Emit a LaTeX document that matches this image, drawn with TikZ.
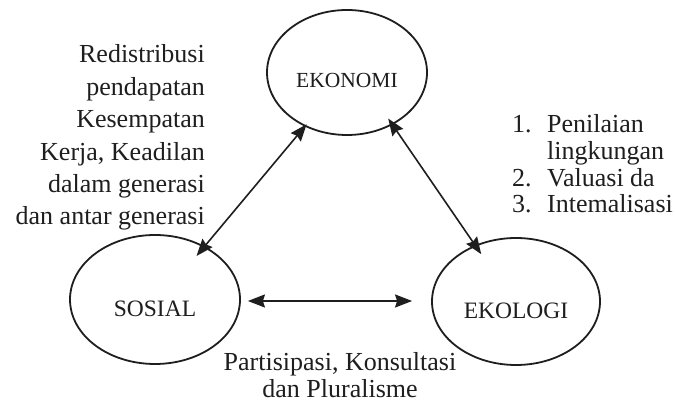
\documentclass[tikz,border=0pt]{standalone}
\usepackage{fontspec}
\setmainfont{Liberation Serif}
\usetikzlibrary{shapes.geometric,arrows.meta}
\definecolor{ink}{RGB}{30,30,30}
\begin{document}
\begin{tikzpicture}[x=1pt,y=1pt,
  circ/.style={draw=ink, line width=1.8pt, ellipse, inner sep=0pt},
  lbl/.style={font=\fontsize{26}{30}\selectfont, text=ink, inner sep=0pt},
  capl/.style={text=ink, inner sep=0pt, anchor=base},
  arr/.style={draw=ink, line width=1.6pt, {Stealth[length=17pt,width=13pt,inset=2pt]}-{Stealth[length=17pt,width=13pt,inset=2pt]}}]
\useasboundingbox[fill=white] (0,0) rectangle (675,406);
% ellipses
\node[circ, minimum width=160pt, minimum height=125pt] (eko) at (347,333.5) {};
\node[circ, minimum width=170pt, minimum height=129pt] (sos) at (155,106.5) {};
\node[circ, minimum width=168pt, minimum height=127pt] (ekol) at (516,104.5) {};
% ellipse labels
\node[capl, font=\fontsize{21.5}{24}\selectfont] (ekot) at (347,318) {EKONOMI};
\node[capl, font=\fontsize{23.5}{26}\selectfont] (sost) at (155,89) {SOSIAL};
\node[capl, font=\fontsize{23.5}{26}\selectfont] (ekolt) at (516,87) {EKOLOGI};
% arrows
\draw[arr, shorten <=-3pt, shorten >=-12.8pt] (eko.-128.4) -- (sos.47.6);
\draw[arr, shorten <=-7.7pt, shorten >=-11pt] (eko.-49) -- (ekol.126.7);
\draw[arr] ([shift={(7,-1.5)}]sos.east) -- ([shift={(-19,0.5)}]ekol.west);
% left text
\node[lbl, anchor=base east] (l1) at (205,343) {Redistribusi};
\node[lbl, anchor=base east] (l2) at (205,310.6) {pendapatan};
\node[lbl, anchor=base east] (l3) at (205,278.2) {Kesempatan};
\node[lbl, anchor=base east] (l4) at (205,245.8) {Kerja, Keadilan};
\node[lbl, anchor=base east] (l5) at (205,213.4) {dalam generasi};
\node[lbl, anchor=base east] (l6) at (205,181) {dan antar generasi};
% right text
\node[lbl, anchor=base west] (n1) at (512,273) {1.};
\node[lbl, anchor=base west] (r1) at (547,273) {Penilaian};
\node[lbl, anchor=base west] (r2) at (547,246.3) {lingkungan};
\node[lbl, anchor=base west] (n2) at (512,219.7) {2.};
\node[lbl, anchor=base west] (r3) at (547,219.7) {Valuasi da};
\node[lbl, anchor=base west] (n3) at (512,193) {3.};
\node[lbl, anchor=base west] (r4) at (547,193) {Intemalisasi};
% bottom text
\node[lbl, anchor=base] (b1) at (340,35) {Partisipasi, Konsultasi};
\node[lbl, anchor=base] (b2) at (340,8) {dan Pluralisme};
\end{tikzpicture}
\end{document}
